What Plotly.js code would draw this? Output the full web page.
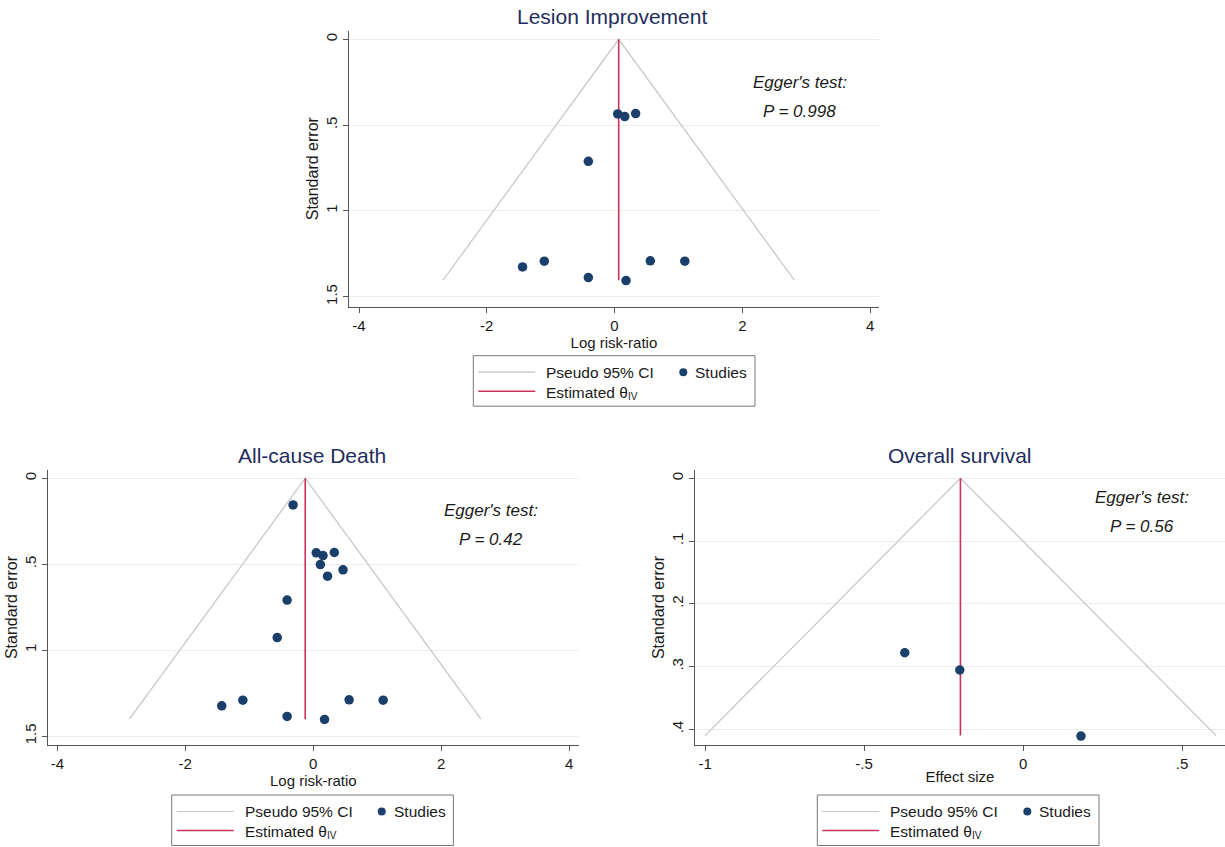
<!DOCTYPE html>
<html>
<head>
<meta charset="utf-8">
<script src="https://cdn.plot.ly/plotly-3.0.1.min.js"></script>
<style>
html,body{margin:0;padding:0;background:#ffffff;}
#chart{width:1225px;height:847px;}
</style>
</head>
<body>
<div id="chart"></div>
<script>
// ---------- Lesion Improvement ----------
const lesionLogRR = [0.05, 0.16, 0.33, -0.41, -1.10, -1.44, 0.56, 1.10, -0.41, 0.18];
const lesionSE    = [0.435, 0.45, 0.433, 0.711, 1.293, 1.326, 1.291, 1.293, 1.388, 1.406];
const lesionThetaX = [0.065, 0.065];
const lesionThetaY = [0, 1.404];
const lesionCiX = [-2.686, 0.065, 2.816];
const lesionCiY = [1.404, 0, 1.404];

// ---------- All-cause Death ----------
const deathLogRR = [-0.315, 0.047, 0.153, 0.33, 0.112, 0.466, 0.224, -0.408, -0.563, -1.10, -1.43, 0.561, 1.093, -0.408, 0.177];
const deathSE    = [0.155, 0.434, 0.45, 0.432, 0.502, 0.533, 0.57, 0.709, 0.927, 1.291, 1.324, 1.289, 1.291, 1.386, 1.403];
const deathThetaX = [-0.125, -0.125];
const deathThetaY = [0, 1.402];
const deathCiX = [-2.873, -0.125, 2.623];
const deathCiY = [1.402, 0, 1.402];

// ---------- Overall survival ----------
const osEffect = [-0.372, -0.199, 0.182];
const osSE     = [0.278, 0.3055, 0.4107];
const osThetaX = [-0.197, -0.197];
const osThetaY = [0, 0.41];
const osCiX = [-1.0, -0.197, 0.607];
const osCiY = [0.41, 0, 0.41];

// ---------- Tick labels ----------
const logRRTicks = [-4, -2, 0, 2, 4];
const logRRTickText = ['-4', '-2', '0', '2', '4'];
const seTicks = [0, 0.5, 1, 1.5];
const seTickText = ['0', '.5', '1', '1.5'];
const esTicks = [-1, -0.5, 0, 0.5];
const esTickText = ['-1', '-.5', '0', '.5'];
const seSmallTicks = [0, 0.1, 0.2, 0.3, 0.4];
const seSmallTickText = ['0', '.1', '.2', '.3', '.4'];

const panelTitles = ['Lesion Improvement', 'All-cause Death', 'Overall survival'];
const eggerP = ['P = 0.998', 'P = 0.42', 'P = 0.56'];

// ---------- styling ----------
const W = 1225, H = 847;
const px = x => x / W;
const py = y => 1 - y / H;
const FONT = 'Liberation Sans, Arial, Helvetica, sans-serif';
const NAVY = '#1a3f6b';
const RED = '#c8325a';
const GRAY = '#c4c4c4';
const TITLE_COLOR = '#1f2d5c';
const AXIS_COLOR = '#555555';
const TEXT = '#1a1a1a';

function ciTrace(x, y, xa, ya) {
  return {x: x, y: y, xaxis: xa, yaxis: ya, type: 'scatter', mode: 'lines',
          line: {color: GRAY, width: 1.2}, hoverinfo: 'skip', showlegend: false};
}
function thetaTrace(x, y, xa, ya) {
  return {x: x, y: y, xaxis: xa, yaxis: ya, type: 'scatter', mode: 'lines',
          line: {color: RED, width: 1.6}, hoverinfo: 'skip', showlegend: false};
}
function studyTrace(x, y, xa, ya) {
  return {x: x, y: y, xaxis: xa, yaxis: ya, type: 'scatter', mode: 'markers',
          marker: {color: NAVY, size: 9.5}, showlegend: false};
}

const data = [
  ciTrace(lesionCiX, lesionCiY, 'x', 'y'),
  thetaTrace(lesionThetaX, lesionThetaY, 'x', 'y'),
  studyTrace(lesionLogRR, lesionSE, 'x', 'y'),
  ciTrace(deathCiX, deathCiY, 'x2', 'y2'),
  thetaTrace(deathThetaX, deathThetaY, 'x2', 'y2'),
  studyTrace(deathLogRR, deathSE, 'x2', 'y2'),
  ciTrace(osCiX, osCiY, 'x3', 'y3'),
  thetaTrace(osThetaX, osThetaY, 'x3', 'y3'),
  studyTrace(osEffect, osSE, 'x3', 'y3')
];

function xAxis(domain, range, tv, tt, title, anchor) {
  return {domain: domain, range: range, anchor: anchor, tickvals: tv, ticktext: tt,
          showline: true, linecolor: AXIS_COLOR, linewidth: 1, ticks: 'outside', ticklen: 5,
          tickcolor: AXIS_COLOR, showgrid: false, zeroline: false,
          tickfont: {family: FONT, size: 15, color: TEXT},
          title: {text: title, standoff: 0, font: {family: FONT, size: 15, color: TEXT}},
          fixedrange: true};
}
function yAxis(domain, range, tv, tt, anchor) {
  return {domain: domain, range: range, anchor: anchor, tickvals: tv, ticktext: tt,
          tickangle: -90, showline: true, linecolor: AXIS_COLOR, linewidth: 1,
          ticks: 'outside', ticklen: 5, tickcolor: AXIS_COLOR,
          showgrid: true, gridcolor: '#ececec', gridwidth: 1, zeroline: false,
          tickfont: {family: FONT, size: 15, color: TEXT},
          title: {text: 'Standard error', standoff: 0, font: {family: FONT, size: 16, color: TEXT}},
          fixedrange: true};
}

const layout = {
  width: W, height: H,
  margin: {l: 0, r: 0, t: 0, b: 0},
  paper_bgcolor: '#ffffff', plot_bgcolor: '#ffffff',
  showlegend: false,
  font: {family: FONT},
  xaxis:  xAxis([px(348.8), px(879)], [-4.16, 4.14], logRRTicks, logRRTickText, 'Log risk-ratio', 'y'),
  yaxis:  yAxis([py(306.7), py(30.7)], [1.558, -0.05], seTicks, seTickText, 'x'),
  xaxis2: xAxis([px(48), px(578.7)], [-4.146, 4.15], logRRTicks, logRRTickText, 'Log risk-ratio', 'y2'),
  yaxis2: yAxis([py(745), py(470)], [1.552, -0.048], seTicks, seTickText, 'x2'),
  xaxis3: xAxis([px(694.9), 1], [-1.032, 0.635], esTicks, esTickText, 'Effect size', 'y3'),
  yaxis3: yAxis([py(745), py(470)], [0.425, -0.0132], seSmallTicks, seSmallTickText, 'x3'),
  annotations: [],
  shapes: []
};

// Panel titles
const titlePos = [[612, 16], [312, 455], [960, 455]];
panelTitles.forEach((t, i) => {
  layout.annotations.push({text: t, xref: 'paper', yref: 'paper', x: px(titlePos[i][0]), y: py(titlePos[i][1]),
    xanchor: 'center', yanchor: 'middle', showarrow: false,
    font: {family: FONT, size: 21, color: TITLE_COLOR}});
});

// Egger's test annotations
const eggerPos = [[800, 82, 111], [491, 510, 539], [1142, 497, 526]];
eggerPos.forEach((p, i) => {
  layout.annotations.push({text: "Egger's test:", xref: 'paper', yref: 'paper', x: px(p[0]), y: py(p[1]),
    xanchor: 'center', yanchor: 'middle', showarrow: false,
    font: {family: FONT, size: 17, color: TEXT, style: 'italic'}});
  layout.annotations.push({text: eggerP[i], xref: 'paper', yref: 'paper', x: px(p[0]), y: py(p[2]),
    xanchor: 'center', yanchor: 'middle', showarrow: false,
    font: {family: FONT, size: 17, color: TEXT, style: 'italic'}});
});

// Legends (Stata style boxes)
function addLegend(left, top) {
  const w = 281.7, h = 50.5;
  const r1 = top + 16.5, r2 = top + 35.5;
  layout.shapes.push({type: 'rect', xref: 'paper', yref: 'paper', x0: px(left), x1: px(left + w), y0: py(top), y1: py(top + h),
    line: {color: '#777777', width: 1}, fillcolor: 'rgba(0,0,0,0)'});
  layout.shapes.push({type: 'line', xref: 'paper', yref: 'paper', x0: px(left + 5), x1: px(left + 62), y0: py(r1), y1: py(r1),
    line: {color: GRAY, width: 1.2}});
  layout.shapes.push({type: 'line', xref: 'paper', yref: 'paper', x0: px(left + 5), x1: px(left + 62), y0: py(r2), y1: py(r2),
    line: {color: RED, width: 1.6}});
  layout.shapes.push({type: 'circle', xref: 'paper', yref: 'paper', x0: px(left + 206), x1: px(left + 214), y0: py(r1 - 4), y1: py(r1 + 4),
    line: {color: NAVY, width: 0}, fillcolor: NAVY});
  layout.annotations.push({text: 'Pseudo 95% CI', xref: 'paper', yref: 'paper', x: px(left + 71), y: py(r1),
    xanchor: 'left', yanchor: 'middle', showarrow: false, font: {family: FONT, size: 15.5, color: TEXT}});
  layout.annotations.push({text: 'Studies', xref: 'paper', yref: 'paper', x: px(left + 220), y: py(r1),
    xanchor: 'left', yanchor: 'middle', showarrow: false, font: {family: FONT, size: 15.5, color: TEXT}});
  layout.annotations.push({text: 'Estimated θ', xref: 'paper', yref: 'paper', x: px(left + 71), y: py(r2 + 1),
    xanchor: 'left', yanchor: 'middle', showarrow: false, font: {family: FONT, size: 15.5, color: TEXT}});
  layout.annotations.push({text: 'IV', xref: 'paper', yref: 'paper', x: px(left + 153), y: py(r2 + 5),
    xanchor: 'left', yanchor: 'middle', showarrow: false, font: {family: FONT, size: 10, color: TEXT}});
}
addLegend(473.3, 355.7);
addLegend(171.7, 795);
addLegend(817.3, 795);

Plotly.newPlot('chart', data, layout, {displayModeBar: false, staticPlot: true});
</script>
</body>
</html>
